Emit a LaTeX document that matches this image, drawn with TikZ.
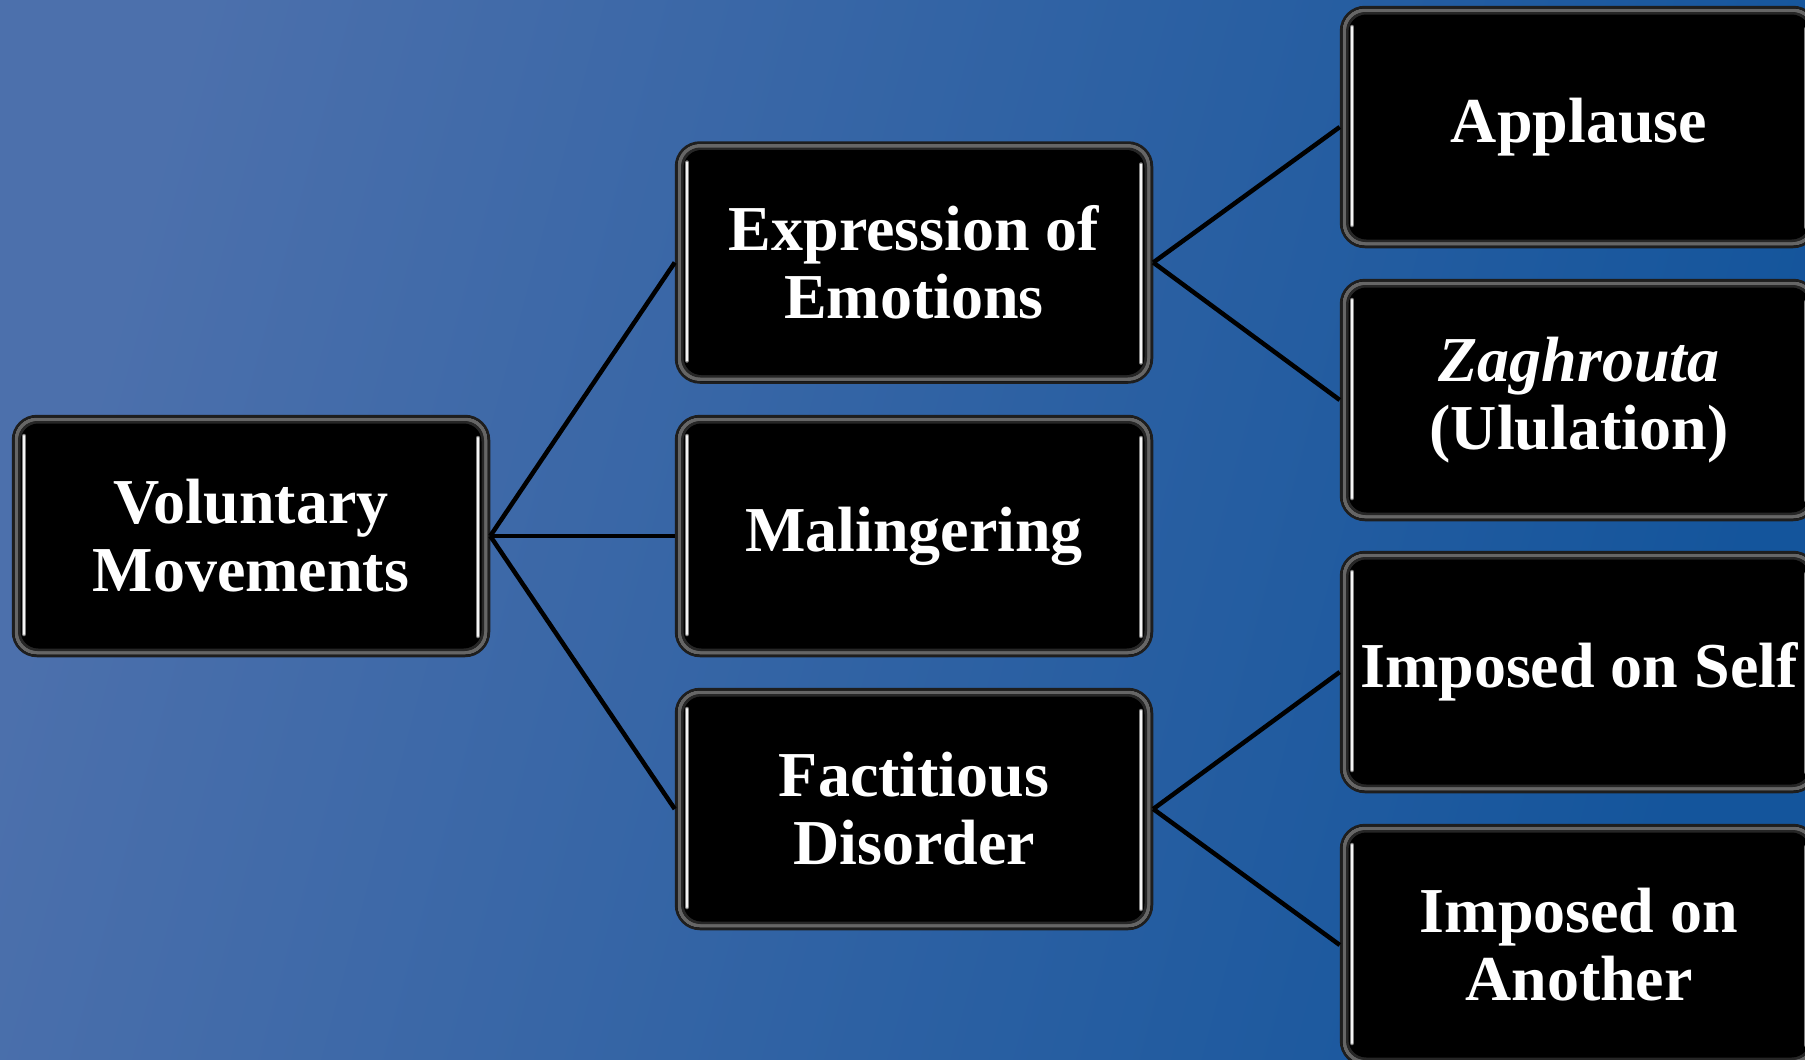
\documentclass[tikz,border=0pt]{standalone}
\usepackage{fontspec}
\setmainfont{Liberation Serif}
\definecolor{bgA}{HTML}{4C70AC}
\definecolor{bgB}{HTML}{14559C}
\definecolor{rim}{HTML}{1E1E1E}
\begin{document}
\begin{tikzpicture}[x=1pt,y=-1pt,
  gbox/.style={rounded corners=24pt, fill=black, draw=rim, line width=2.5pt,
    minimum width=476pt, minimum height=240pt, inner sep=0pt,
    text=white, align=center,
    font=\fontsize{64}{68}\selectfont\bfseries,
    path picture={
      \draw[gray!80!black, line width=4pt, rounded corners=20pt]
        ([xshift=3.5pt,yshift=-3.5pt]path picture bounding box.north west) rectangle
        ([xshift=-3.5pt,yshift=3.5pt]path picture bounding box.south east);
      \draw[gray!30!black, line width=3pt, rounded corners=18pt]
        ([xshift=6.5pt,yshift=-6.5pt]path picture bounding box.north west) rectangle
        ([xshift=-6.5pt,yshift=6.5pt]path picture bounding box.south east);
      \draw[black, line width=4pt, rounded corners=16pt]
        ([xshift=9.5pt,yshift=-9.5pt]path picture bounding box.north west) rectangle
        ([xshift=-9.5pt,yshift=9.5pt]path picture bounding box.south east);
      \draw[gray, line width=4.5pt, line cap=round]
        ([xshift=11pt,yshift=-20pt]path picture bounding box.north west) --
        ([xshift=11pt,yshift=22pt]path picture bounding box.south west);
      \draw[gray, line width=4.5pt, line cap=round]
        ([xshift=-11pt,yshift=-22pt]path picture bounding box.north east) --
        ([xshift=-11pt,yshift=20pt]path picture bounding box.south east);
      \draw[white!92!gray, line width=2.5pt, line cap=round]
        ([xshift=11pt,yshift=-20pt]path picture bounding box.north west) --
        ([xshift=11pt,yshift=22pt]path picture bounding box.south west);
      \draw[white!92!gray, line width=2.5pt, line cap=round]
        ([xshift=-11pt,yshift=-22pt]path picture bounding box.north east) --
        ([xshift=-11pt,yshift=20pt]path picture bounding box.south east);
    }},
  link/.style={draw=black, line width=4.5pt}]
\useasboundingbox (0,0) rectangle (1805,1060);
\shade[left color=bgA, right color=bgB, shading angle=75] (0,0) rectangle (1805,1060);

\node[gbox] (vm)   at (251,536) {Voluntary\\Movements};
\node[gbox] (expr) at (914,262.5) {Expression of\\Emotions};
\node[gbox] (mal)  at (914,536) {Malingering};
\node[gbox] (fact) at (914,809) {Factitious\\Disorder};
\node[gbox] (app)  at (1579,127) {Applause};
\node[gbox] (zag)  at (1579,400) {\textit{Zaghrouta}\\(Ululation)};
\node[gbox] (self) at (1579,672) {Imposed on Self};
\node[gbox] (anot) at (1579,945) {Imposed on\\Another};

\draw[link] (vm.east) -- (expr.west);
\draw[link] (vm.east) -- (mal.west);
\draw[link] (vm.east) -- (fact.west);
\draw[link] (expr.east) -- (app.west);
\draw[link] (expr.east) -- (zag.west);
\draw[link] (fact.east) -- (self.west);
\draw[link] (fact.east) -- (anot.west);
\end{tikzpicture}
\end{document}
